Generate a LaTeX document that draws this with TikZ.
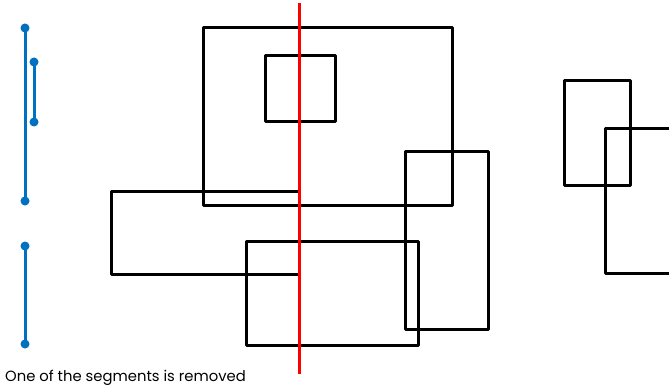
\documentclass[tikz,border=0pt]{standalone}
\usepackage{fontspec}
\setmainfont{Poppins}
\definecolor{segblue}{HTML}{0070C0}
\begin{document}
\begin{tikzpicture}[x=1pt,y=-1pt,
  rect/.style={draw=black,line width=3pt,line join=round,inner sep=0pt,outer sep=0pt,anchor=north west},
  seg/.style={draw=segblue,line width=3pt},
  dot/.style={circle,fill=segblue,inner sep=0pt,minimum size=9pt},
  cut/.style={draw=red,line width=3pt}]
\useasboundingbox (0,0) rectangle (669,385);
\clip (0,0) rectangle (669,385);
% rectangles
\node[rect,minimum width=249pt,minimum height=177pt] (r1) at (203,28) {};
\node[rect,minimum width=70pt,minimum height=66pt] (r2) at (265,56) {};
\node[rect,minimum width=188pt,minimum height=83pt] (r3) at (111.5,191) {};
\node[rect,minimum width=83pt,minimum height=178pt] (r4) at (405,151.5) {};
\node[rect,minimum width=172pt,minimum height=104pt] (r5) at (246,241) {};
\node[rect,minimum width=66pt,minimum height=104pt] (r6) at (564,81) {};
\node[rect,minimum width=90pt,minimum height=145pt] (r7) at (605.5,128.5) {};
% cut line
\coordinate (ctop) at (299,3);
\coordinate (cbot) at (299,374);
\draw[cut] (ctop) -- (cbot);
% segments
\node[dot] (a1) at (25,28) {};
\node[dot] (a2) at (25,201) {};
\node[dot] (b1) at (34,62) {};
\node[dot] (b2) at (34,122) {};
\node[dot] (c1) at (25,246) {};
\node[dot] (c2) at (25,344) {};
\draw[seg] (a1.center) -- (a2.center);
\draw[seg] (b1.center) -- (b2.center);
\draw[seg] (c1.center) -- (c2.center);
% caption
\node[anchor=base west,inner sep=0pt,font=\fontsize{14.8}{16}\selectfont] (cap) at (5,381) {One of the segments is removed};
\end{tikzpicture}
\end{document}
